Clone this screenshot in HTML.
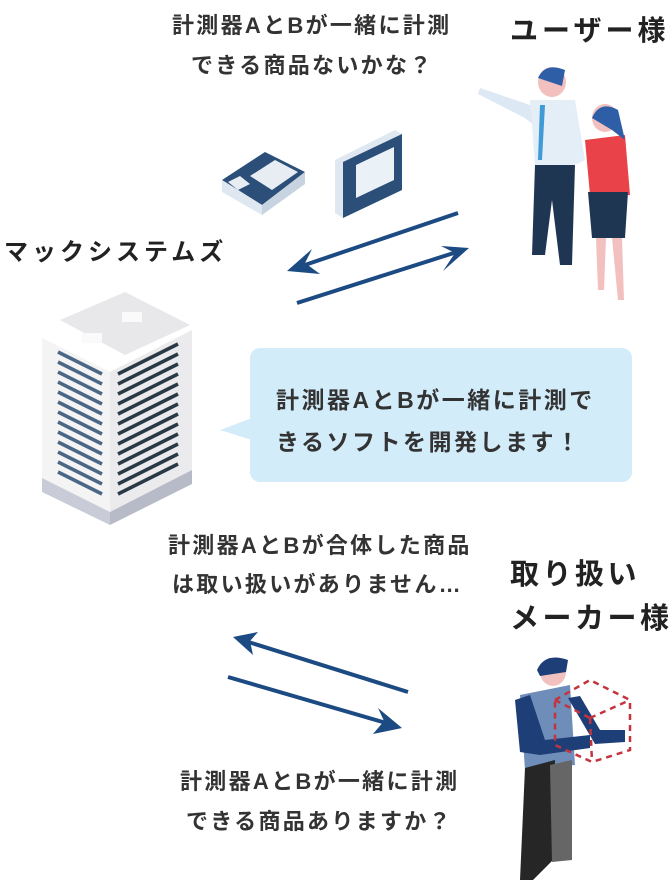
<!DOCTYPE html>
<html><head><meta charset="utf-8"><style>
body{margin:0;width:672px;height:894px;background:#fff;position:relative;overflow:hidden;font-family:"Liberation Sans","Noto Sans CJK JP",sans-serif;color:#333}
.t{position:absolute;white-space:nowrap;font-weight:700}
.s{font-size:22px;letter-spacing:2.3px}
.b{font-weight:700;color:#222}
svg{position:absolute;left:0;top:0}
</style></head><body>
<svg width="672" height="894" viewBox="0 0 672 894">
<rect x="250" y="348" width="382" height="134" rx="10" fill="#d3ecfa"/>
<polygon points="252,418 220,430 252,440" fill="#d3ecfa"/>
<g stroke="#1c4a82" stroke-width="4" fill="#1c4a82">
<line x1="458" y1="213" x2="296" y2="268"/>
<line x1="297" y1="303" x2="460" y2="251"/>
<line x1="408" y1="692" x2="242" y2="640"/>
<line x1="228" y1="677" x2="393" y2="725"/>
</g>
<g fill="#1c4a82">
<polygon points="287,271 312,249 305,263 320,274"/>
<polygon points="469,248 441,246 455,253 443,271"/>
<polygon points="233,637 258,632 250,641 253,655"/>
<polygon points="402,728 378,708 384,721 373,734"/>
</g>
<polygon points="222,180 265,152 305,172 262,205" fill="#2b4f78"/>
<polygon points="222,180 262,205 262,215 222,192" fill="#dfe7f0"/>
<polygon points="262,205 305,172 305,184 262,215" fill="#c7d3e1"/>
<polygon points="250,176 275,160 298,172 272,190" fill="#e8edf3"/>
<polygon points="228,182 240,176 250,184 238,190" fill="#e8edf3"/>
<polygon points="335,160 395,130 402,134 402,190 343,218 335,213" fill="#dfe7f0"/>
<polygon points="343,162 402,134 402,190 343,218" fill="#2b4f78"/>
<polygon points="356,165 394,147 394,180 356,198" fill="#eaf1f7"/>
<polygon points="60,320 125,292 190,325 125,355" fill="#e8e8ea"/>
<polygon points="42,338 110,372 110,512 42,478" fill="#f4f4f5"/>
<polygon points="110,372 192,330 192,470 110,512" fill="#ebebed"/>
<polygon points="42,478 110,512 110,525 42,492" fill="#c9ccd6"/>
<polygon points="110,512 192,470 192,484 110,525" fill="#b7bbc8"/>
<g stroke-width="3.5">
<g stroke="#4b6786">
<line x1="58" y1="352" x2="102" y2="374"/><line x1="58" y1="362" x2="102" y2="384"/><line x1="58" y1="372" x2="102" y2="394"/><line x1="58" y1="382" x2="102" y2="404"/><line x1="58" y1="392" x2="102" y2="414"/><line x1="58" y1="402" x2="102" y2="424"/><line x1="58" y1="412" x2="102" y2="434"/><line x1="58" y1="422" x2="102" y2="444"/><line x1="58" y1="432" x2="102" y2="454"/><line x1="58" y1="442" x2="102" y2="464"/><line x1="58" y1="452" x2="102" y2="474"/><line x1="58" y1="462" x2="102" y2="484"/><line x1="58" y1="472" x2="102" y2="494"/>
</g>
<g stroke="#2a3946">
<line x1="118" y1="374" x2="178" y2="344"/><line x1="118" y1="384" x2="178" y2="354"/><line x1="118" y1="394" x2="178" y2="364"/><line x1="118" y1="404" x2="178" y2="374"/><line x1="118" y1="414" x2="178" y2="384"/><line x1="118" y1="424" x2="178" y2="394"/><line x1="118" y1="434" x2="178" y2="404"/><line x1="118" y1="444" x2="178" y2="414"/><line x1="118" y1="454" x2="178" y2="424"/><line x1="118" y1="464" x2="178" y2="434"/><line x1="118" y1="474" x2="178" y2="444"/><line x1="118" y1="484" x2="178" y2="454"/><line x1="118" y1="494" x2="178" y2="464"/>
</g></g>
<rect x="82" y="333" width="20" height="10" fill="#fafafa"/><rect x="122" y="312" width="20" height="10" fill="#fafafa"/>
<polygon points="480,88 530,105 545,118 540,130 525,118 478,94" fill="#dce8f3"/>
<polygon points="530,100 575,100 585,160 575,165 535,165" fill="#e4eef7"/>
<polygon points="540,105 545,105 542,160 538,160" fill="#3f9ad6"/>
<polygon points="535,165 575,165 572,265 560,265 552,200 545,255 532,255" fill="#1f3653"/>
<ellipse cx="552" cy="82" rx="14" ry="15" fill="#f3c0c0"/>
<path d="M538 78 Q545 62 565 70 L562 86 Z" fill="#2e5fa6"/>
<polygon points="585,140 625,135 630,195 590,195" fill="#e94249"/>
<polygon points="588,192 628,192 625,238 592,238" fill="#1f3653"/>
<ellipse cx="605" cy="118" rx="13" ry="14" fill="#f3c0c0"/>
<path d="M592 118 Q600 100 618 110 L625 140 L612 130 Z" fill="#2e5fa6"/>
<polygon points="596,238 606,238 604,290 598,290" fill="#f3c0c0"/><polygon points="612,238 622,238 624,300 618,300" fill="#f3c0c0"/>
<ellipse cx="553" cy="672" rx="13" ry="14" fill="#f3c0c0"/>
<path d="M537 670 Q545 652 568 660 L566 672 L540 676 Z" fill="#1d3e77"/>
<polygon points="520,695 570,685 575,765 525,770" fill="#6e8db9"/>
<polygon points="515,700 530,695 545,740 590,735 590,748 540,755 520,752" fill="#1d3e77"/>
<polygon points="568,698 580,696 600,730 625,730 625,742 595,744" fill="#1d3e77"/>
<polygon points="525,768 555,760 553,860 533,880 520,880" fill="#262626"/>
<polygon points="550,765 572,760 572,860 552,862" fill="#666"/>
<g fill="none" stroke="#c4343f" stroke-width="2.5" stroke-dasharray="6,5">
<polygon points="555,700 590,680 630,700 630,750 592,762 555,745"/>
<line x1="590" y1="718" x2="630" y2="700"/><line x1="590" y1="718" x2="592" y2="762"/><line x1="555" y1="700" x2="590" y2="718"/>
</g>
</svg>
<div class="t s" style="left:172px;top:8px">計測器AとBが一緒に計測</div>
<div class="t s" style="left:191px;top:48px">できる商品ないかな？</div>
<div class="t b" style="left:510px;top:9px;font-size:28px;letter-spacing:4px">ユーザー様</div>
<div class="t b" style="left:4px;top:232px;font-size:24px;letter-spacing:4px">マックシステムズ</div>
<div class="t" style="left:276px;top:379px;font-size:23px;letter-spacing:2.5px;line-height:42px">計測器AとBが一緒に計測で<br>きるソフトを開発します！</div>
<div class="t s" style="left:168px;top:528px">計測器AとBが合体した商品</div>
<div class="t s" style="left:172px;top:567px">は取い扱いがありません…</div>
<div class="t b" style="left:510px;top:553px;font-size:29px;letter-spacing:3.5px;line-height:44px">取り扱い<br>メーカー様</div>
<div class="t s" style="left:180px;top:764px">計測器AとBが一緒に計測</div>
<div class="t s" style="left:186px;top:804px">できる商品ありますか？</div>
</body></html>
